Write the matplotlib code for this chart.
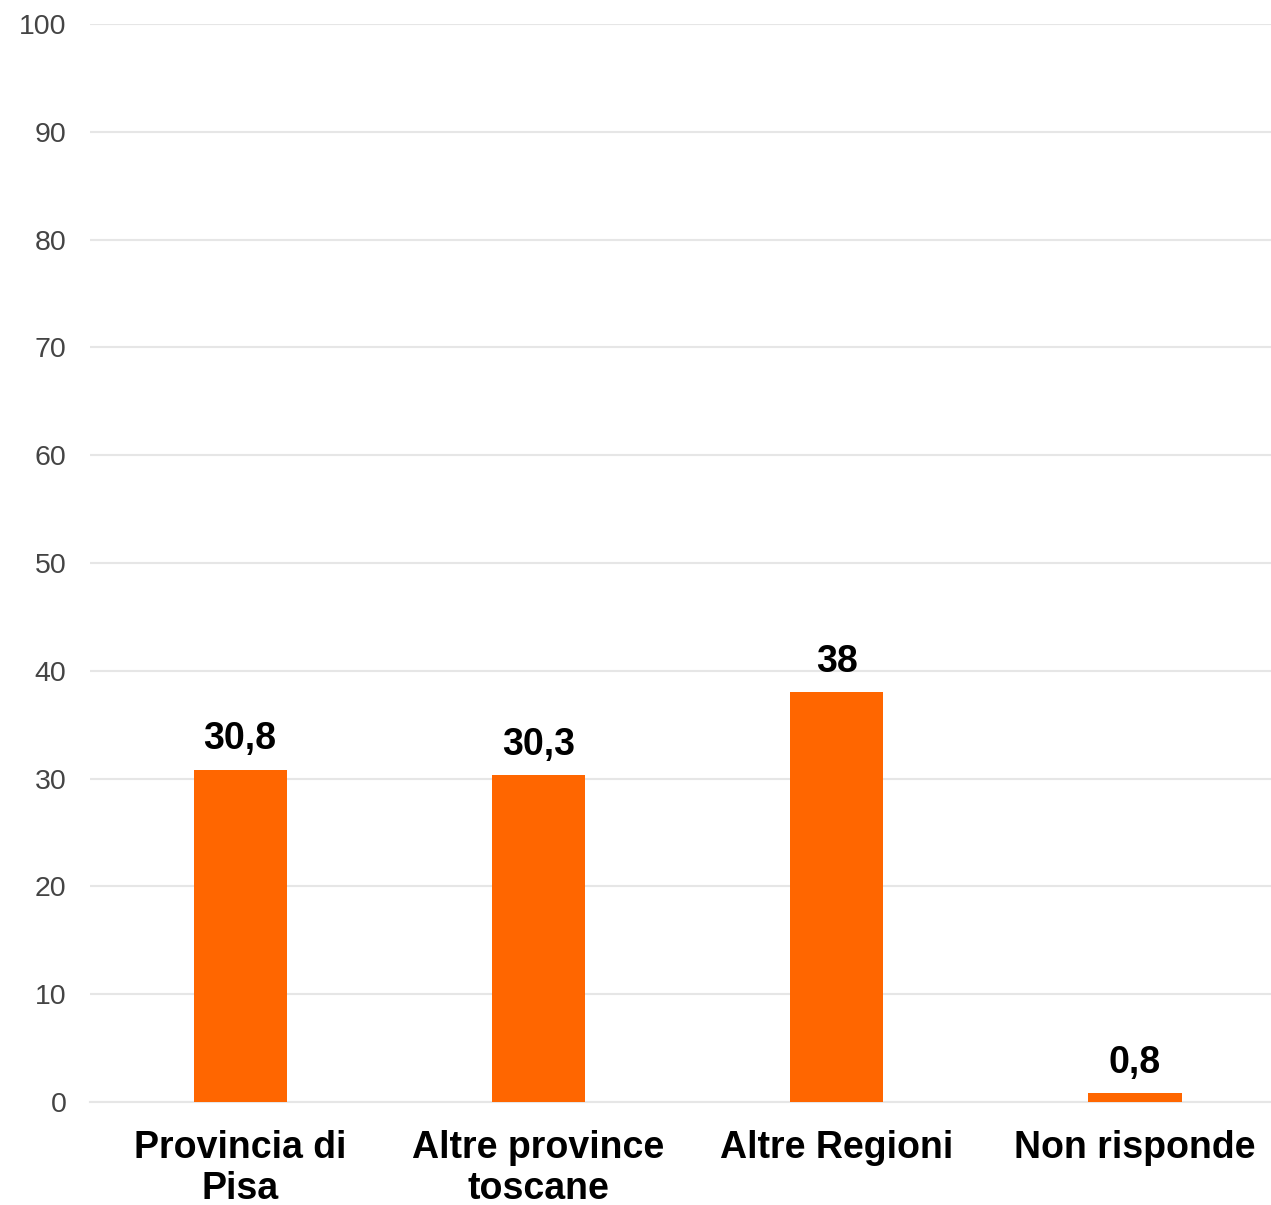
import matplotlib.pyplot as plt

plt.rcParams['font.family'] = ['Liberation Sans', 'DejaVu Sans']

# Data
categories = ['Provincia di\nPisa', 'Altre province\ntoscane', 'Altre Regioni', 'Non risponde']
values = [30.8, 30.3, 38, 0.8]
value_labels = ['30,8', '30,3', '38', '0,8']
yticks = [0, 10, 20, 30, 40, 50, 60, 70, 80, 90, 100]

fig = plt.figure(figsize=(12.71, 12.05), dpi=100)
ax = fig.add_axes([90 / 1271, 1 - 1102 / 1205, 1181 / 1271, 1078 / 1205])

x = range(len(categories))
ax.bar(x, values, width=0.312, color='#ff6600', zorder=3)

for xi, v, lab in zip(x, values, value_labels):
    ax.annotate(lab, (xi, v), xytext=(0, 9), textcoords='offset points',
                ha='center', va='bottom', fontsize=27, fontweight='bold', color='black')

ax.set_xlim(-0.503, 3.456)
ax.set_ylim(0, 100)
ax.set_yticks(yticks)
ax.set_yticklabels([str(t) for t in yticks], fontsize=20.5, color='#444444')
ax.set_xticks(list(x))
ax.set_xticklabels(categories, fontsize=27, fontweight='bold', color='black',
                   linespacing=1.2)

ax.grid(axis='y', color='#e6e6e6', linewidth=1.5, zorder=0)
ax.tick_params(axis='y', length=0, pad=17)
ax.tick_params(axis='x', length=0, pad=20)
for s in ['top', 'right', 'left']:
    ax.spines[s].set_visible(False)
ax.spines['bottom'].set_color('#e6e6e6')
ax.spines['bottom'].set_linewidth(1.5)

fig.savefig('out.png', dpi=100)
